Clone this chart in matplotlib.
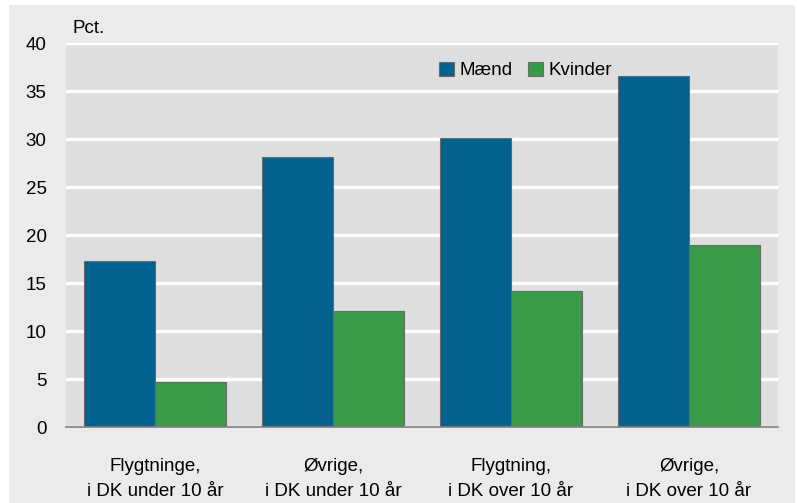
import numpy as np
import matplotlib.pyplot as plt
from matplotlib.patches import Rectangle

plt.rcParams['font.family'] = ['Liberation Sans Narrow', 'Liberation Sans', 'DejaVu Sans']

categories = ['Flygtninge,\ni DK under 10 år', 'Øvrige,\ni DK under 10 år',
              'Flygtning,\ni DK over 10 år', 'Øvrige,\ni DK over 10 år']
maend = [17.3, 28.1, 30.1, 36.6]
kvinder = [4.7, 12.1, 14.2, 19.0]

blue = '#02628f'
green = '#379b48'

fig = plt.figure(figsize=(7.97, 5.03), dpi=100, facecolor='white')
# grå baggrundsramme
fig.patches.append(Rectangle((9 / 797, 0), 786 / 797, 498 / 503, transform=fig.transFigure,
                             facecolor='#ebebeb', edgecolor='none', zorder=-10))
ax = fig.add_axes([66 / 797, 76 / 503, 712 / 797, 384 / 503])
ax.set_facecolor('#dedede')

x = np.arange(len(categories))
w = 0.4
ax.bar(x - w / 2, maend, w, color=blue, edgecolor='#6a6a6a', linewidth=0.8, label='Mænd', zorder=3)
ax.bar(x + w / 2, kvinder, w, color=green, edgecolor='#6a6a6a', linewidth=0.8, label='Kvinder', zorder=3)

ax.set_xlim(-0.5, 3.5)
ax.set_ylim(0, 40)
ax.set_yticks(np.arange(0, 41, 5))
ax.set_xticks(x)
ax.set_xticklabels(categories, fontsize=13.5, linespacing=1.65)
ax.tick_params(axis='y', labelsize=13.5, length=0, pad=14)
ax.tick_params(axis='x', length=0, pad=22)
ax.grid(axis='y', color='white', linewidth=2.5, zorder=1)
for s in ['top', 'right', 'left']:
    ax.spines[s].set_visible(False)
ax.spines['bottom'].set_color('#808080')
ax.spines['bottom'].set_linewidth(1.2)
ax.spines['bottom'].set_zorder(4)

ax.text(0.009, 1.015, 'Pct.', transform=ax.transAxes, fontsize=13.5, ha='left', va='bottom')

leg = ax.legend(loc='upper left', bbox_to_anchor=(0.5, 0.995), ncol=2, frameon=False, fontsize=13.5,
                handlelength=0.8, handleheight=0.8, handletextpad=0.3, columnspacing=0.8)

fig.savefig('out.png', dpi=100, facecolor=fig.get_facecolor())
